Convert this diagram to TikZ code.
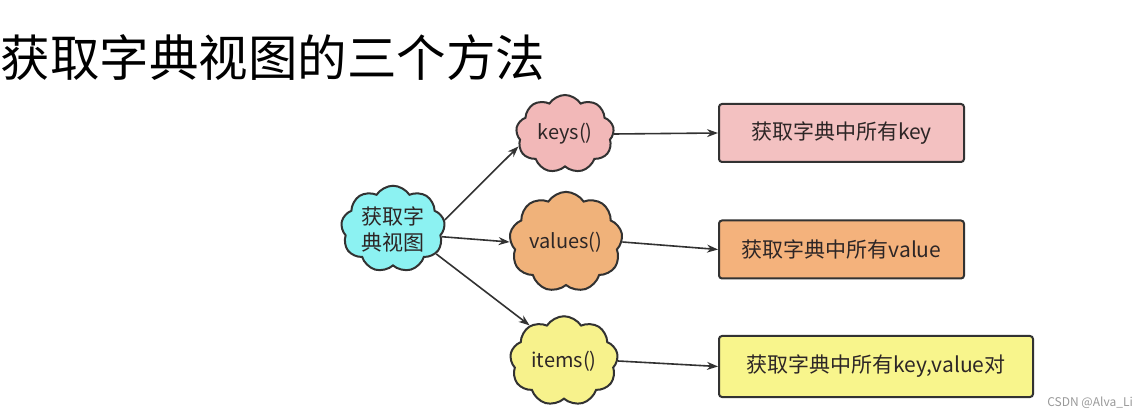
\documentclass[tikz,border=0pt]{standalone}
\usepackage{fontspec}
\setmainfont{Noto Sans CJK SC}
\setsansfont{Noto Sans CJK SC}
\usetikzlibrary{shapes.symbols,arrows.meta}
\definecolor{cyanc}{RGB}{140,242,242}
\definecolor{pinkc}{RGB}{242,184,184}
\definecolor{orangec}{RGB}{240,178,122}
\definecolor{yellowc}{RGB}{247,242,140}
\definecolor{pinkr}{RGB}{243,193,193}
\definecolor{oranger}{RGB}{244,178,124}
\definecolor{yellowr}{RGB}{248,245,140}
\definecolor{edge}{RGB}{50,50,50}
\definecolor{txt}{RGB}{45,38,38}
\tikzset{
  cloudbox/.style={cloud, cloud puffs=9, cloud puff arc=115, draw=edge, line width=2pt,
    inner sep=0pt, aspect=1.2, font=\fontsize{20}{24}\selectfont, text=txt},
  rectbox/.style={rectangle, rounded corners=3pt, draw=edge, line width=2pt,
    font=\fontsize{21}{25}\selectfont, text=txt, minimum height=58pt, anchor=west},
  arr/.style={draw=edge, line width=1.6pt, -{Stealth[length=11pt,width=8pt]}},
}
\begin{document}
\begin{tikzpicture}[x=1pt,y=-1pt]
\useasboundingbox[fill=white] (0,0) rectangle (1148,419);
\node[anchor=west, font=\fontsize{49.5}{56}\selectfont, text=black, inner sep=0pt] (title) at (0.5,58) {获取字典视图的三个方法};

\node[cloudbox, fill=cyanc, minimum width=104pt, minimum height=86pt, align=center,
  font=\fontsize{21}{26}\selectfont] (c) at (393,229) {获取字\\典视图};
\node[cloudbox, fill=pinkc, minimum width=98pt, minimum height=78pt] (k) at (565,134) {keys()};
\node[cloudbox, fill=orangec, minimum width=106pt, minimum height=88pt] (v) at (566,242) {values()};
\node[cloudbox, fill=yellowc, minimum width=108pt, minimum height=84pt] (i) at (564,361) {items()};

\node[rectbox, fill=pinkr, minimum width=245pt] (r1) at (718,133) {获取字典中所有key};
\node[rectbox, fill=oranger, minimum width=245pt] (r2) at (718,249.5) {获取字典中所有value};
\node[rectbox, fill=yellowr, minimum width=314pt, minimum height=61pt] (r3) at (718,366.5) {获取字典中所有key,value对};

\draw[arr] (c.10) -- (k.195);
\draw[arr] (c.-9) -- (v.180);
\draw[arr] (c.-30) -- (i.134);
\draw[arr] (k.east) -- (r1.west);
\draw[arr] (v.east) -- (r2.west);
\draw[arr] (i.east) -- (r3.west);

\node[anchor=east, font=\fontsize{12}{14}\selectfont, text=gray!80, inner sep=0pt] (wm) at (1133,403) {CSDN @Alva\_Li};
\end{tikzpicture}
\end{document}
